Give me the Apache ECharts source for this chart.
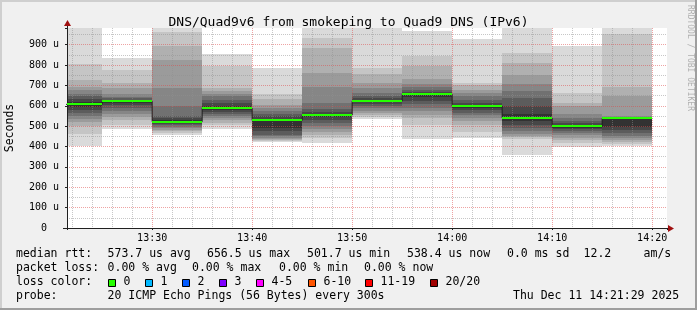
<!DOCTYPE html>
<html>
<head>
<meta charset="utf-8">
<script src="https://cdn.jsdelivr.net/npm/echarts@6/dist/echarts.min.js"></script>
<style>
html,body{margin:0;padding:0;background:#f0f0f0;}
#chart{width:697px;height:310px;}
</style>
</head>
<body>
<div id="chart"></div>
<script>
// ---------------- data (microseconds, minutes since midnight) ----------------
const titleText = 'DNS/Quad9v6 from smokeping to Quad9 DNS (IPv6)';
const xMin = 13 * 60 + 21 + 29 / 60;   // 13:21:29
const xMax = 14 * 60 + 21 + 29 / 60;   // 14:21:29
const yMax = 982;
const slotStarts = [800, 805, 810, 815, 820, 825, 830, 835, 840, 845, 850, 855]; // 13:20 .. 14:15
const slotLength = 5;
const medianUs = [607, 622, 522, 588, 528, 554, 623, 656, 599, 540, 500, 538];
// 18 sorted ping values per 5-minute step (lowest .. highest)
const pings_1320 = [402, 460, 500, 520, 535, 550, 565, 580, 595, 620, 635, 648, 660, 677, 694, 725, 803, 1000];
const pings_1325 = [484, 505, 530, 545, 560, 575, 590, 605, 615, 625, 630, 636, 645, 660, 686, 712, 777, 835];
const pings_1330 = [455, 465, 475, 482, 490, 498, 505, 512, 518, 530, 538, 548, 600, 689, 825, 894, 962, 1000];
const pings_1335 = [484, 505, 515, 530, 540, 550, 560, 570, 580, 600, 615, 630, 648, 660, 672, 689, 795, 852];
const pings_1340 = [423, 428, 433, 437, 442, 450, 459, 475, 492, 535, 548, 562, 575, 590, 605, 632, 656, 787];
const pings_1345 = [418, 440, 455, 470, 485, 500, 515, 530, 545, 560, 570, 585, 615, 690, 760, 886, 935, 1000];
const pings_1350 = [533, 545, 555, 565, 575, 590, 600, 610, 618, 628, 636, 648, 664, 689, 713, 754, 787, 1000];
const pings_1355 = [435, 508, 541, 555, 574, 590, 607, 625, 645, 660, 668, 677, 690, 705, 730, 795, 845, 968];
const pings_1400 = [440, 470, 508, 525, 541, 555, 566, 578, 590, 605, 615, 630, 648, 665, 680, 700, 713, 926];
const pings_1405 = [358, 435, 445, 451, 460, 475, 490, 508, 525, 560, 599, 640, 672, 705, 750, 812, 861, 1000];
const pings_1410 = [398, 418, 430, 443, 455, 468, 475, 484, 492, 507, 515, 525, 540, 560, 600, 615, 664, 894];
const pings_1415 = [405, 412, 420, 430, 440, 451, 465, 480, 497, 540, 542, 544, 546, 549, 648, 694, 951, 1000];
const smokeSlots = [pings_1320, pings_1325, pings_1330, pings_1335, pings_1340, pings_1345,
                    pings_1350, pings_1355, pings_1400, pings_1405, pings_1410, pings_1415];
const xTickValues = [810, 820, 830, 840, 850, 860];
const xTickLabels = ['13:30', '13:40', '13:50', '14:00', '14:10', '14:20'];
const rttLabels = ['573.7 us avg', '656.5 us max', '501.7 us min', '538.4 us now', '0.0 ms sd', '12.2', 'am/s'];
const lossLabelsStats = ['0.00 % avg', '0.00 % max', '0.00 % min', '0.00 % now'];
const lossColorLabels = ['0', '1', '2', '3', '4-5', '6-10', '11-19', '20/20'];
const lossColors = ['#26ff00', '#00b8ff', '#0059ff', '#7e00ff', '#ff00ff', '#ff5500', '#ff0000', '#a00000'];
const probeText = '20 ICMP Echo Pings (56 Bytes) every 300s';
const dateText = 'Thu Dec 11 14:21:29 2025';

// ---------------- presentation ----------------
const smokeShades = ['#dadada', '#c5c5c5', '#b0b0b0', '#9b9b9b', '#868686', '#717171', '#5c5c5c', '#474747', '#323232'];
const MONO = "'DejaVu Sans Mono', monospace";
const G = { left: 67, right: 30, top: 28, bottom: 82 };

const chart = echarts.init(document.getElementById('chart'), null, { renderer: 'canvas' });

const smokeData = slotStarts.map((t, i) => [t, t + slotLength].concat(smokeSlots[i]));
const medianSeg = slotStarts.map((t, i) => [t, t + slotLength, medianUs[i]]);
const medianStep = slotStarts.map((t, i) => [t, medianUs[i]]).concat([[slotStarts[slotStarts.length - 1] + slotLength, medianUs[medianUs.length - 1]]]);

function clipTo(params, rect) {
  const cs = params.coordSys;
  return echarts.graphic.clipRectByRect(rect, { x: cs.x, y: cs.y, width: cs.width, height: cs.height });
}

function renderSmoke(params, api) {
  const s = api.value(0), e = api.value(1);
  const n = 18;
  const children = [];
  for (let k = 0; k < 9; k++) {
    const lo = api.value(2 + k), hi = api.value(2 + n - 1 - k);
    const a = api.coord([s, hi]);
    const b = api.coord([e, lo]);
    const x0 = Math.round(a[0]), x1 = Math.round(b[0]);
    const y0 = Math.round(a[1]), y1 = Math.round(b[1]);
    const r = clipTo(params, { x: x0, y: y0, width: x1 - x0, height: y1 - y0 });
    if (r) children.push({ type: 'rect', shape: r, style: { fill: smokeShades[k] } });
  }
  return { type: 'group', children };
}

function renderMedian(params, api) {
  const s = api.value(0), e = api.value(1), m = api.value(2);
  const a = api.coord([s, m]);
  const b = api.coord([e, m]);
  const cs = params.coordSys;
  const x0 = Math.max(Math.round(a[0]), cs.x), x1 = Math.min(Math.round(b[0]), cs.x + cs.width);
  const y = Math.round(a[1]);
  return { type: 'rect', shape: { x: x0, y: y - 1, width: x1 - x0, height: 2 }, style: { fill: lossColors[0] } };
}

const dotted = (c) => ({ color: c, width: 1, type: [1, 1] });

const option = {
  animation: false,
  backgroundColor: '#f0f0f0',
  textStyle: { fontFamily: MONO },
  title: {
    text: titleText, left: 'center', top: 11,
    textStyle: { fontFamily: MONO, fontSize: 13, fontWeight: 'normal', color: '#000' }
  },
  grid: { left: G.left, right: G.right, top: G.top, bottom: G.bottom, show: true, backgroundColor: '#ffffff', borderWidth: 0,
          containLabel: false, outerBoundsMode: 'none' },
  xAxis: {
    type: 'value', min: xMin, max: xMax, splitNumber: 6, z: 10,
    axisLine: { show: true, lineStyle: { color: '#202020', width: 1 } },
    axisTick: { show: true, length: 2, inside: false, lineStyle: { color: '#202020' } },
    axisLabel: {
      margin: 5, fontFamily: MONO, fontSize: 10, color: '#000',
      formatter: (v) => { const i = xTickValues.indexOf(Math.round(v * 1000) / 1000); return i >= 0 ? xTickLabels[i] : ''; }
    },
    splitLine: { show: true, showMinLine: false, showMaxLine: false, lineStyle: dotted('rgba(222,72,72,0.5)') },
    minorTick: { show: false, splitNumber: 5 },
    minorSplitLine: { show: true, lineStyle: dotted('rgba(143,143,143,0.5)') }
  },
  yAxis: {
    type: 'value', min: 0, max: yMax, interval: 100, z: 10,
    name: 'Seconds', nameLocation: 'middle', nameGap: 51, nameRotate: 90,
    nameTextStyle: { fontFamily: MONO, fontSize: 11.5, color: '#000' },
    axisLine: { show: true, lineStyle: { color: '#202020', width: 1 } },
    axisTick: { show: true, length: 2, lineStyle: { color: '#202020' } },
    axisLabel: {
      margin: 8, fontFamily: MONO, fontSize: 10, color: '#000',
      formatter: (v) => (v % 100 !== 0 ? '' : (v === 0 ? '0  ' : v + ' u'))
    },
    splitLine: { show: true, showMinLine: false, showMaxLine: false, lineStyle: dotted('rgba(222,72,72,0.5)') },
    minorTick: { show: false, splitNumber: 2 },
    minorSplitLine: { show: true, lineStyle: dotted('rgba(143,143,143,0.5)') }
  },
  series: [
    { type: 'custom', name: 'smoke', renderItem: renderSmoke, data: smokeData, z: 2, silent: true,
      encode: { x: [0, 1], y: [2, 3, 4, 5, 6, 7, 8, 9, 10, 11, 12, 13, 14, 15, 16, 17, 18, 19] } },
    { type: 'line', name: 'median', data: medianStep, step: 'end', symbol: 'none', clip: true, z: 15,
      lineStyle: { color: '#202020', width: 1 }, silent: true },
    { type: 'custom', name: 'median loss 0', renderItem: renderMedian, data: medianSeg, z: 16, silent: true,
      encode: { x: [0, 1], y: 2 } }
  ]
};
chart.setOption(option);

// ---------------- legend, frame, arrows (graphic decorations) ----------------
const W = 697, H = 310;
const gx0 = G.left, gy1 = H - G.bottom, gx1 = W - G.right, gy0 = G.top;
const rowY = [254.5, 268.5, 282.5, 296.5];
const txt = (x, y, s, extra) => Object.assign({
  type: 'text', x: x, y: y, silent: true,
  style: { text: s, font: '11.5px ' + MONO, fill: '#000', verticalAlign: 'middle', align: 'left' }
}, extra || {});
const g = [];
// frame
g.push({ type: 'rect', shape: { x: 0, y: 0, width: W, height: 2 }, style: { fill: '#cfcfcf' }, silent: true });
g.push({ type: 'rect', shape: { x: 0, y: 0, width: 2, height: H }, style: { fill: '#cfcfcf' }, silent: true });
g.push({ type: 'rect', shape: { x: 0, y: H - 2, width: W, height: 2 }, style: { fill: '#9e9e9e' }, silent: true });
g.push({ type: 'rect', shape: { x: W - 2, y: 0, width: 2, height: H }, style: { fill: '#9e9e9e' }, silent: true });
// axis extensions + arrows
g.push({ type: 'line', shape: { x1: gx0 + 0.5, y1: gy0, x2: gx0 + 0.5, y2: gy0 - 4 }, style: { stroke: '#202020', lineWidth: 1 }, silent: true });
g.push({ type: 'line', shape: { x1: gx0 - 4, y1: gy1 + 0.5, x2: gx0, y2: gy1 + 0.5 }, style: { stroke: '#202020', lineWidth: 1 }, silent: true });
g.push({ type: 'polygon', shape: { points: [[gx0 - 3, gy0 - 2], [gx0 + 4, gy0 - 2], [gx0 + 0.5, gy0 - 8]] }, style: { fill: '#a01010' }, silent: true });
g.push({ type: 'line', shape: { x1: gx1, y1: gy1 + 0.5, x2: gx1 + 2, y2: gy1 + 0.5 }, style: { stroke: '#202020', lineWidth: 1 }, silent: true });
g.push({ type: 'polygon', shape: { points: [[gx1 + 1, gy1 - 3], [gx1 + 1, gy1 + 4], [gx1 + 7, gy1 + 0.5]] }, style: { fill: '#a01010' }, silent: true });
// watermark
g.push({ type: 'text', x: 690, y: 5, rotation: -Math.PI / 2, silent: true,
  style: { text: 'RRDTOOL / TOBI OETIKER', font: '8px ' + MONO, fill: '#b0b0b0', align: 'left', verticalAlign: 'middle' } });
// row 1
g.push(txt(16, rowY[0], 'median rtt:'));
[107.6, 207, 307, 407, 507, 583.6, 643.6].forEach((x, i) => g.push(txt(x, rowY[0], rttLabels[i])));
// row 2
g.push(txt(16, rowY[1], 'packet loss:'));
[107.6, 192, 279, 364].forEach((x, i) => g.push(txt(x, rowY[1], lossLabelsStats[i])));
// row 3
g.push(txt(16, rowY[2], 'loss color:'));
const boxX = [108, 145.3, 182.2, 219.1, 256.4, 307.6, 365.3, 430.2];
boxX.forEach((x, i) => {
  g.push({ type: 'rect', shape: { x: Math.round(x) + 0.5, y: 279.5, width: 7, height: 7 },
    style: { fill: lossColors[i], stroke: '#000', lineWidth: 1 }, silent: true });
  g.push(txt(Math.round(x) + 15.5, rowY[2], lossColorLabels[i]));
});
// row 4
g.push(txt(16, rowY[3], 'probe:'));
g.push(txt(107.6, rowY[3], probeText));
g.push(txt(513, rowY[3], dateText));
chart.setOption({ graphic: g });
</script>
</body>
</html>
